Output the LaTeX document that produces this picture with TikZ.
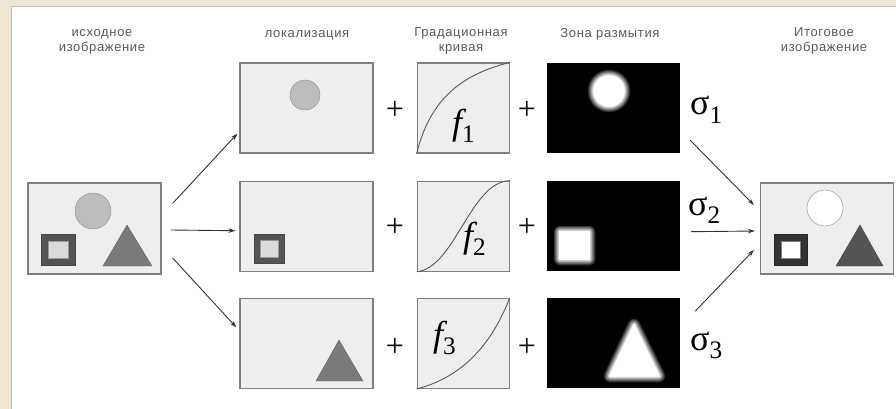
\documentclass[tikz,border=0pt]{standalone}
\usepackage{fontspec}
\usepackage{xcolor}
\usepackage{tikz}
\usetikzlibrary{arrows.meta,positioning}
\newfontfamily\labelfont[LetterSpace=5]{Liberation Sans}
\newfontfamily\symfont{Liberation Serif}
\definecolor{paper}{HTML}{F1E6D1}
\definecolor{rim}{HTML}{BCC6B5}
\definecolor{panel}{HTML}{EEEEEE}
\definecolor{frame}{HTML}{7F7F7F}
\definecolor{ink}{HTML}{5A5A5A}
% soft white shape on black
\newcommand\glow[1]{%
  \foreach \k [evaluate=\k as \w using (11-\k)*1.3, evaluate=\k as \p using int(10*\k)] in {1,...,10}
    {\draw[line width=\w pt,white!\p!black,line join=round] #1;}
  \fill[white] #1;}

\begin{document}
\begin{tikzpicture}[x=1pt,y=-1pt,every node/.style={inner sep=0pt},photo/.style={draw=frame,line width=1.2pt,fill=panel,minimum width=133pt,minimum height=90pt},curvebox/.style={photo,minimum width=92pt},blurbox/.style={fill=black,minimum width=133pt,minimum height=90pt},caption/.style={font=\labelfont\fontsize{13}{15}\selectfont,text=ink,align=center,anchor=base},plus/.style={font=\symfont\fontsize{32}{36}\selectfont},sym/.style={font=\symfont\fontsize{36}{40}\selectfont,anchor=base west},arrow/.style={-{Stealth[length=7pt,width=4.5pt]},line width=0.9pt,draw=black!80},curve/.style={line width=0.9pt,draw=black!65}]
\useasboundingbox (0,0) rectangle (896,409);
\fill[paper] (0,0) rectangle (896,409);
\fill[white] (12,7) rectangle (896,409);
\draw[rim,line width=1.5pt] (11.5,409) -- (11.5,6.5) -- (896,6.5);
% captions (two-line ones sit on their last line)
\node[caption] (capsrc) at (102,52) {исходное\\изображение};
\node[caption] (caploc) at (307,37.5) {локализация};
\node[caption] (capcur) at (461,52) {Градационная\\кривая};
\node[caption] (capblur) at (610,37.5) {Зона размытия};
\node[caption] (capres) at (824,52) {Итоговое\\изображение};
% boxes
\node[photo,minimum height=91pt] (src) at (94.5,228.5) {};
\node[photo] (loc1) at (306.5,108) {};
\node[photo,below=27pt of loc1] (loc2) {};
\node[photo,below=26pt of loc2] (loc3) {};
\node[curvebox,right=43pt of loc1] (cur1) {};
\node[curvebox,right=43pt of loc2] (cur2) {};
\node[curvebox,right=43pt of loc3] (cur3) {};
\node[blurbox,right=37pt of cur1] (blur1) {};
\node[blurbox,right=37pt of cur2] (blur2) {};
\node[blurbox,right=37pt of cur3] (blur3) {};
\node[photo,minimum height=91pt] (res) at (827,228.5) {};
% source picture
\draw[fill=black!26,draw=black!45] (93,211) circle (18);
\draw[fill=black!67,draw=black!73] (41,234) rectangle (75,265);
\draw[fill=black!14,draw=black!40] (48,241) rectangle (68,258);
\draw[fill=black!52,draw=black!60,line join=round] (103,266) -- (127,225) -- (152,266) -- cycle;
% localization
\draw[fill=black!26,draw=black!45] (305,95) circle (15);
\draw[fill=black!67,draw=black!73] (254,234) rectangle (284,263);
\draw[fill=black!14,draw=black!40] (260,240) rectangle (278,257);
\draw[fill=black!52,draw=black!60,line join=round] (316,381) -- (339,340) -- (363,381) -- cycle;
% curves
\draw[curve] (cur1.south west) .. controls (430,100) and (460,75) .. (cur1.north east);
\draw[curve] (cur2.south west) .. controls (455,268) and (470,182) .. (cur2.north east);
\draw[curve] (cur3.south west) .. controls (470,375) and (495,335) .. (cur3.north east);
\node[sym] (f1) at (452,134) {{\itshape f}\textsubscript{1}};
\node[sym] (f2) at (463,247) {{\itshape f}\textsubscript{2}};
\node[sym] (f3) at (433,346) {{\itshape f}\textsubscript{3}};
% blur zones
\glow{(609,91) circle (15)}
\glow{(560,232) rectangle (589,259)}
\glow{(610,376) -- (634,325) -- (659,376) -- cycle}
% plus signs
\foreach \y in {110,227,347}{
  \node[plus] (pla\y) at (395,\y) {+};
  \node[plus] (plb\y) at (527,\y) {+};
}
% sigmas
\node[sym] (s1) at (690,115) {σ\textsubscript{1}};
\node[sym] (s2) at (688,215) {σ\textsubscript{2}};
\node[sym] (s3) at (690,350) {σ\textsubscript{3}};
% result
\draw[fill=white,draw=black!45] (825,208) circle (18);
\draw[fill=black!80,draw=black!85] (774,234) rectangle (807,265);
\draw[fill=white,draw=black!50] (781,241) rectangle (800,258);
\draw[fill=black!67,draw=black!72,line join=round] (836,266) -- (860,225) -- (883,266) -- cycle;
% arrows
\draw[arrow] ([shift={(11,-25)}]src.east) -- ([shift={(-2,-20)}]loc1.south west);
\draw[arrow] ([shift={(9,1.5)}]src.east) -- ([shift={(-4,4.5)}]loc2.west);
\draw[arrow] ([shift={(11,29.5)}]src.east) -- ([shift={(-3,-16)}]loc3.west);
\draw[arrow] ([shift={(10,-13)}]blur1.south east) -- ([shift={(-6,-23.5)}]res.west);
\draw[arrow] ([shift={(11,5.5)}]blur2.east) -- ([shift={(-5,2.5)}]res.west);
\draw[arrow] ([shift={(15,13)}]blur3.north east) -- ([shift={(-6,21.5)}]res.west);
\end{tikzpicture}
\end{document}
